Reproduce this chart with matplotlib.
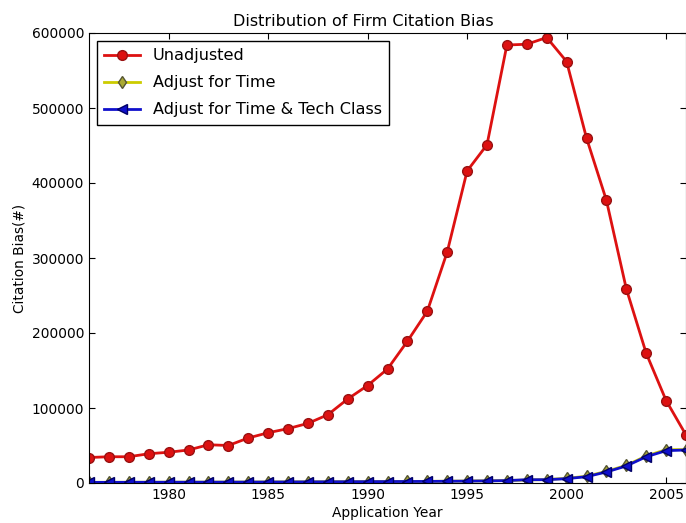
import numpy as np
import matplotlib.pyplot as plt

# Anmeldejahre
years = np.arange(1976, 2007)

# Zitationsbias je Jahr, ohne Bereinigung
unadjusted = [34000, 35000, 35000, 39000, 41000, 44000, 51000, 50000, 60000, 67000,
              72500, 79500, 91000, 112000, 130000, 152000, 189000, 229000, 308000, 416000,
              451000, 584000, 585000, 594000, 562000, 460000, 377000, 259000, 173000, 110000,
              64000]

# bereinigt nach Anmeldejahr
adj_time = [900, 950, 1000, 1050, 1100, 1150, 1200, 1250, 1300, 1400,
            1500, 1600, 1700, 1800, 1900, 2000, 2100, 2200, 2400, 2600,
            2900, 3300, 4000, 4600, 6200, 9000, 15500, 23500, 36000, 44500,
            44500]

# bereinigt nach Anmeldejahr und Technologieklasse
adj_time_tech = [800, 850, 900, 950, 1000, 1050, 1100, 1150, 1200, 1300,
                 1400, 1500, 1600, 1700, 1800, 1900, 2000, 2100, 2300, 2500,
                 2800, 3200, 4400, 4400, 5800, 8400, 14700, 22700, 35000, 43100,
                 44000]

fig = plt.figure(figsize=(6.86, 5.23), dpi=100)
ax = fig.add_axes([89/686, 40/523, 597/686, 450/523])

ax.plot(years, unadjusted, color='#dd1111', marker='o', markersize=7, lw=2,
        mec='#991111', label='Unadjusted')
ax.plot(years, adj_time, color='#cccc00', marker='d', markersize=6.5, lw=2,
        mec='#555533', mfc='#aaaa33', label='Adjust for Time')
ax.plot(years, adj_time_tech, color='#1010cc', marker='<', markersize=6.5, lw=2,
        mec='#000066', label='Adjust for Time & Tech Class')

ax.set_xlim(1976, 2006)
ax.set_ylim(0, 600000)
ax.set_xticks(np.arange(1980, 2006, 5))
ax.set_yticks(np.arange(0, 600001, 100000))
ax.tick_params(direction='in', top=True, right=True, length=4, labelsize=9.9)

ax.set_title('Distribution of Firm Citation Bias', fontsize=11.5, x=0.459, pad=5)
ax.set_xlabel('Application Year', fontsize=9.9, labelpad=3)
ax.set_ylabel('Citation Bias(#)', fontsize=9.9)

leg = ax.legend(loc='upper left', fontsize=11.6, fancybox=False, framealpha=1,
                edgecolor='black', handlelength=2.2, borderaxespad=0.5,
                labelspacing=0.75, borderpad=0.45)
leg.get_frame().set_linewidth(1)

fig.savefig('out.png', dpi=100)
